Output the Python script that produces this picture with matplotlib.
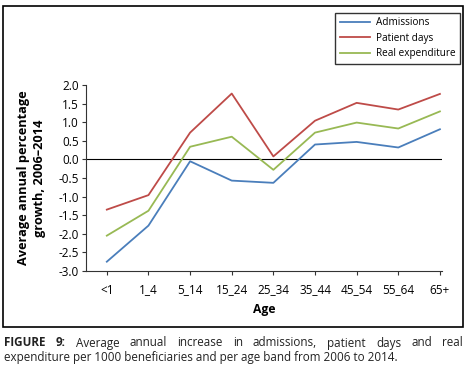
import matplotlib
matplotlib.use('Agg')
import matplotlib.pyplot as plt
from matplotlib.patches import Rectangle

plt.rcParams['font.family'] = ['Open Sans', 'DejaVu Sans']

ages = ['<1', '1_4', '5_14', '15_24', '25_34', '35_44', '45_54', '55_64', '65+']
admissions = [-2.75, -1.78, -0.05, -0.57, -0.63, 0.40, 0.47, 0.32, 0.81]
patient_days = [-1.35, -0.96, 0.72, 1.77, 0.08, 1.04, 1.52, 1.34, 1.76]
real_expenditure = [-2.05, -1.38, 0.34, 0.61, -0.28, 0.72, 0.99, 0.83, 1.29]

W, H = 469, 380
fig = plt.figure(figsize=(W / 100, H / 100), dpi=100)

# outer frame around the chart
fig.patches.append(Rectangle((3 / W, 1 - 327 / H), 460 / W, 321 / H,
                             transform=fig.transFigure, fill=False,
                             edgecolor='black', linewidth=1.2))

ax = fig.add_axes([86 / W, 1 - 271 / H, 356 / W, 186 / H])
x = list(range(len(ages)))
ax.plot(x, admissions, color='#4A7EBB', lw=1.3, label='Admissions')
ax.plot(x, patient_days, color='#BE4B48', lw=1.3, label='Patient days')
ax.plot(x, real_expenditure, color='#98B954', lw=1.3, label='Real expenditure')
ax.axhline(0, color='black', lw=0.8, zorder=0)

ax.set_xlim(-0.5, 8.05)
ax.set_ylim(-3.0, 2.0)
ax.set_yticks([-3.0, -2.5, -2.0, -1.5, -1.0, -0.5, 0.0, 0.5, 1.0, 1.5, 2.0])
ax.set_yticklabels([f'{v:.1f}' for v in ax.get_yticks()], fontsize=8.5)
ax.set_xticks(x)
ax.set_xticklabels(ages, fontsize=8.5)
ax.tick_params(axis='both', length=3, width=0.8, color='#333333', pad=2)
ax.tick_params(axis='x', pad=6)
for side in ['top', 'right']:
    ax.spines[side].set_visible(False)
for side in ['left', 'bottom']:
    ax.spines[side].set_linewidth(0.8)
    ax.spines[side].set_color('#333333')

ax.set_xlabel('Age', fontsize=8.7, fontweight='bold', labelpad=5)
fig.text(32 / W, 1 - 178 / H, 'Average annual percentage\ngrowth, 2006\u20132014',
         rotation=90, ha='center', va='center', fontsize=9.2,
         fontweight='bold', linespacing=1.3)

leg = fig.legend(loc='upper left', bbox_to_anchor=(335 / W, 1 - 12.5 / H),
                 borderaxespad=0, fontsize=7.2, frameon=True, fancybox=False,
                 handlelength=3.0, borderpad=0.45, labelspacing=0.45,
                 handletextpad=0.6)
leg.get_frame().set_edgecolor('black')
leg.get_frame().set_linewidth(1.0)

# caption, first line justified across the frame width
fig.canvas.draw()
renderer = fig.canvas.get_renderer()
line1 = [('FIGURE', True), ('9:', True), ('Average', False), ('annual', False),
         ('increase', False), ('in', False), ('admissions,', False), ('patient', False),
         ('days', False), ('and', False), ('real', False)]
cap_kw = dict(fontsize=8.4, color='#222222', va='baseline')
texts = []
for word, bold in line1:
    t = fig.text(0, 1 - 346.5 / H, word, fontweight='bold' if bold else 'normal', **cap_kw)
    texts.append(t)
widths = [t.get_window_extent(renderer).width for t in texts]
left, right = 4, 463
gap = (right - left - sum(widths)) / (len(texts) - 1)
pos = left
for t, w in zip(texts, widths):
    t.set_x(pos / W)
    pos += w + gap
fig.text(left / W, 1 - 361 / H,
         'expenditure per 1000 beneficiaries and per age band from 2006 to 2014.',
         **cap_kw)

fig.savefig('out.png', dpi=100)
